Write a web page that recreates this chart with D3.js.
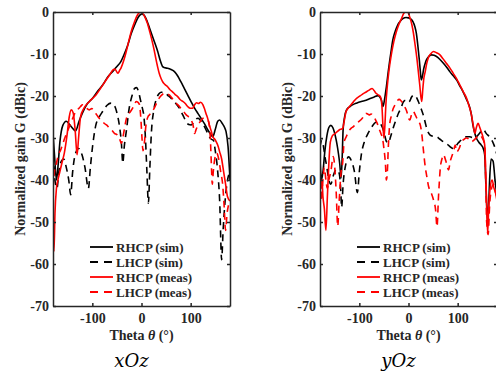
<!DOCTYPE html>
<meta charset="utf-8">
<style>
body { margin: 0; background: #fff; }
text { font-family: "Liberation Serif", "Times New Roman", serif; font-weight: bold; fill: #262626; }
.axis path, .axis line { stroke: #262626; stroke-width: 1.5px; }
.axis text { font-size: 14px; }
.sub { font-family: "DejaVu Serif", serif; font-style: italic; font-weight: normal; font-size: 18px; fill: #000; }
</style>
<body>
<script src="https://cdn.jsdelivr.net/npm/d3@7"></script>
<script>

// theta (deg) / normalized gain (dBic)
var xozRhcpSim = [[-180,-29],[-177,-34],[-173,-40],[-170,-37],[-166,-31],[-160,-27],[-153,-26],[-145,-27],[-134,-28.3],[-127,-26],[-120,-24],[-110,-21.8],[-100,-20.6],[-90,-19],[-79,-17.4],[-69,-15.5],[-59,-14.2],[-50,-13],[-42,-11.8],[-35,-10],[-28,-7.9],[-21,-5.2],[-14,-3.1],[-7,-1.3],[0,-0.5],[4,-0.6],[10,-1.8],[19,-4.7],[26,-7],[33,-9.4],[38,-11.5],[43,-13],[48,-13.3],[53,-13.4],[60,-13.7],[67,-14.2],[74,-15.3],[80,-16.6],[87,-18.2],[94,-19.8],[101,-21.4],[108,-22.9],[115,-24.2],[121,-25.3],[128,-26.6],[135,-28.1],[140,-29],[145,-29.7],[150,-28],[155,-26],[159,-25.7],[164,-26.5],[169,-27.5],[172,-28.5],[176,-32],[180,-40]];
var xozLhcpSim = [[-180,-31],[-176,-40],[-172,-42],[-168,-38],[-163,-35.5],[-158,-35],[-153,-37],[-148,-40],[-144,-43.5],[-140,-38],[-135,-34],[-128,-32.5],[-121,-34],[-115,-37],[-108,-42],[-104,-37],[-100,-32.5],[-93,-27],[-86,-25],[-79,-23.7],[-70,-22.2],[-62,-21.7],[-55,-22.3],[-50,-24],[-45,-27],[-41,-31],[-38,-36],[-35,-32],[-31,-28.5],[-25,-22.9],[-19,-19.8],[-14,-18.2],[-10,-18],[-6,-19],[-2,-21],[2,-23],[5,-25],[8,-30],[11,-38],[14,-45.5],[17,-37],[20,-29],[25,-23.3],[30,-20.8],[36,-19.4],[40,-19.1],[45,-19.1],[50,-19.5],[55,-20],[60,-20.5],[68,-21.5],[77,-22.9],[84,-24.5],[91,-26.1],[96,-26.8],[101,-26.9],[106,-26.3],[110,-25.6],[115,-25.3],[121,-26],[128,-27.3],[133,-28.5],[138,-29.7],[142,-30.3],[146,-30.5],[150,-33],[155,-38],[159,-45],[163,-59],[166,-52],[170,-45],[175,-40],[180,-38]];
var xozRhcpMeas = [[-180,-45],[-178,-57],[-176,-48],[-173,-42],[-170,-40],[-166,-38],[-162,-36],[-157,-33.6],[-151,-28.9],[-147,-25],[-143,-23.3],[-139,-24],[-135,-28],[-131,-34],[-128,-30],[-124,-25],[-117,-22.9],[-106,-21.3],[-93,-19.8],[-79,-17.4],[-65,-15],[-58,-13.8],[-54,-13.6],[-48,-14.6],[-44,-13.8],[-42,-13.4],[-36,-11.5],[-31,-9.4],[-26,-7],[-21,-4.7],[-15,-2.6],[-10,-1.1],[-5,-0.2],[-2,0],[2,-0.3],[7,-1.2],[12,-2.7],[17,-4.8],[22,-7.1],[26,-9.2],[29,-11],[33,-13.2],[36,-14.6],[40,-15.9],[43,-16.6],[48,-17.3],[53,-17.8],[58,-18.5],[63,-19],[68,-19.6],[74,-20.2],[79,-20.9],[84,-21.3],[89,-21.8],[94,-22.5],[99,-22.9],[104,-22.9],[108,-22.1],[112,-21.6],[116,-21.8],[120,-21.5],[125,-22.1],[128,-23],[131,-24.1],[135,-25.5],[138,-26.9],[142,-28.4],[145,-29.7],[149,-30.3],[152,-30.9],[156,-32],[159,-33.3],[163,-35],[167,-38],[171,-41],[175,-44],[180,-45]];
var xozLhcpMeas = [[-180,-42],[-177,-38],[-173,-36],[-169,-34],[-165,-33],[-161,-31.7],[-156,-30],[-151,-28.5],[-144,-26.5],[-137,-24.5],[-132,-23.3],[-128,-23],[-124,-22.5],[-120,-22.1],[-113,-22.8],[-106,-23.3],[-101,-23],[-96,-23.7],[-91,-24.5],[-86,-25.3],[-81,-25.8],[-76,-26.5],[-70,-27],[-65,-27.7],[-60,-28.2],[-55,-28.9],[-50,-29.2],[-45,-30],[-41,-31.3],[-38,-30],[-35,-28],[-31,-25.5],[-28,-24.5],[-23,-23.8],[-18,-22.9],[-14,-22],[-11,-21.3],[-7,-21.5],[-4,-22.1],[-1,-26],[1,-30],[3,-33],[6,-31],[9,-27],[13,-25],[16,-24.5],[21,-23.8],[26,-22.9],[31,-21.6],[36,-20.5],[41,-19.8],[46,-19.4],[51,-19.4],[57,-19.8],[62,-20.5],[67,-21.3],[73,-22],[80,-22.9],[85,-23.6],[91,-24.5],[96,-25],[101,-25.7],[105,-27],[108,-28.9],[111,-28],[115,-26.9],[120,-26],[125,-25.3],[130,-25.5],[135,-25.7],[138,-27],[140,-30],[142,-36],[144,-41],[146,-38],[149,-35],[153,-33.6],[157,-35],[161,-38],[165,-41],[168,-46],[171,-52],[174,-48],[177,-46],[180,-45]];

var yozRhcpSim = [[-180,-35],[-177,-40],[-174,-38],[-170,-33],[-166,-29.5],[-162,-27.5],[-158,-27],[-154,-27.5],[-151,-28.5],[-147,-30.5],[-144,-32.5],[-140,-36],[-137,-39.5],[-135,-35],[-133,-28],[-130,-25],[-126,-23.3],[-119,-22.5],[-112,-22],[-106,-21.7],[-96,-21.3],[-86,-21],[-78,-20.6],[-69,-20.2],[-62,-19.9],[-58,-20.3],[-55,-21],[-52,-22.5],[-49,-21],[-45,-17.8],[-41,-14],[-38,-11.4],[-35,-9],[-32,-6.7],[-27,-4.6],[-22,-3.1],[-16,-2.1],[-11.5,-1.6],[-5,-1.3],[0,-1.4],[5,-1.7],[9,-2.3],[13,-3.5],[16,-5.1],[19,-8],[22,-11.4],[24,-14],[26,-16.2],[28,-15.5],[31,-13.5],[34,-12.2],[37,-11.3],[42,-10.5],[47,-10.2],[52,-10.3],[57,-10.6],[64,-11.3],[71,-12.2],[78,-13.2],[84,-14.2],[91,-15.2],[98,-16.2],[104,-17.5],[111,-19],[118,-20.8],[125,-22.9],[128,-24.5],[131,-26.9],[134,-28.5],[138,-30],[143,-31],[148,-31.7],[152,-32.5],[155,-34],[157,-40],[159,-46],[161,-50],[163,-46],[165,-40],[168,-35],[172,-35.5],[176,-40],[180,-44]];
var yozLhcpSim = [[-180,-32],[-176,-30.5],[-173,-32],[-170,-34.4],[-166,-37],[-162,-40],[-158,-41],[-153,-39],[-147,-37.5],[-141,-38.4],[-138,-42],[-136,-46.5],[-133,-41],[-128,-36.5],[-122,-34.5],[-116,-35.5],[-110,-38],[-104,-43],[-100,-38],[-96,-34],[-90,-31],[-84,-29.3],[-77,-27.8],[-70,-26.6],[-65,-26.2],[-60,-26.3],[-55,-27],[-50,-28.5],[-45,-30.8],[-41,-31.2],[-36,-29.5],[-30,-27.2],[-25,-25.5],[-20,-24],[-15,-22.8],[-11,-21.5],[-6,-21],[-2,-21.5],[2,-21.3],[6,-20.3],[10,-19.8],[14,-20],[20,-21.3],[25,-22.8],[30,-24.5],[34,-26.3],[37,-27.7],[44,-29.3],[50,-29.6],[57,-29.7],[64,-30.3],[71,-30.9],[76,-31.3],[81,-31.7],[86,-32.2],[91,-32.5],[96,-32],[101,-31.2],[106,-30.6],[111,-30],[118,-29.7],[125,-29.7],[130,-29.9],[135,-30],[140,-29.5],[145,-28.8],[150,-28],[154,-28.2],[158,-28.9],[163,-29.5],[168,-30.2],[174,-31.7],[180,-34]];
var yozRhcpMeas = [[-180,-38],[-178,-42],[-176,-40],[-174,-44],[-171,-47],[-168,-52],[-165,-44],[-162,-36],[-159,-31],[-155,-29.5],[-150,-29],[-145,-28.5],[-141,-28.1],[-134,-27.7],[-130,-25.5],[-127,-23.7],[-122,-22.8],[-117,-22.1],[-112,-21.4],[-107,-20.7],[-100,-20.1],[-94,-19.6],[-87,-19.1],[-80,-18.6],[-74,-18.2],[-70,-18.7],[-67,-19.2],[-62,-19.7],[-57,-20.2],[-54,-22.5],[-52,-27],[-50,-30],[-48,-27],[-46,-22],[-43,-17.5],[-40,-14.2],[-35,-10.2],[-30,-7.1],[-25,-4.8],[-20,-3.1],[-14,-1.5],[-9.5,-0.3],[-5,0],[-2,0],[2,-1],[7,-3.1],[10,-5],[13.5,-7.9],[17,-11],[20,-14.2],[23,-17.5],[25,-20],[27,-21.3],[29,-18.5],[31,-16],[34,-14.2],[37,-12.3],[40,-11],[45,-10],[50.5,-9.4],[57,-9.7],[64,-10.2],[70,-11.1],[77,-12.2],[84,-13.3],[91,-14.6],[98,-15.9],[104.5,-17.4],[111,-18.9],[118,-20.5],[123,-22.3],[128,-24.5],[131,-26.5],[135,-28.9],[138,-27.5],[141.6,-26.5],[145,-27.5],[148,-28.5],[152,-30],[155,-31.7],[157,-38],[159,-46],[161,-52.7],[163,-47],[166,-42],[170,-40],[174,-42],[177,-43],[180,-45]];
var yozLhcpMeas = [[-180,-40],[-177,-45],[-174,-40],[-171,-37],[-168,-40],[-165,-42],[-162,-40],[-158,-38],[-153,-34.4],[-150,-37],[-147,-43],[-144,-51],[-141,-45],[-137,-38],[-134,-36],[-131,-31],[-127,-29.8],[-122,-28.5],[-117,-27.7],[-112,-27.3],[-106,-26.5],[-100,-26],[-94,-25.3],[-87,-24.1],[-83,-24.3],[-80,-24.5],[-76,-24.3],[-73,-24.5],[-70,-25],[-67,-25.7],[-63,-26.7],[-60,-27.7],[-56,-29],[-53,-30],[-50,-32.5],[-47,-36],[-45,-40],[-43,-38],[-41,-32],[-38,-26.5],[-35,-24.8],[-32,-23.3],[-27,-22],[-22,-21],[-19,-20.8],[-15,-21.2],[-11,-21.8],[-8,-22.5],[-4,-23.5],[-1.4,-24.5],[1,-25.5],[3,-25.7],[6,-24.5],[10,-23.7],[13,-24.3],[17,-25.3],[20,-26],[24,-26.9],[27,-29],[30,-32.5],[34,-36.8],[37,-39],[41,-41.6],[46,-43],[51,-44.8],[55,-47],[58,-51.1],[61,-44],[65,-36.8],[68,-35],[71,-34],[76,-35.5],[81.5,-37.6],[85,-35.5],[88,-34.4],[92,-33],[95,-31.7],[98,-33.3],[103,-32.5],[108,-30.9],[113,-30.3],[118,-30],[123,-30.3],[128,-30.9],[133,-30.5],[139,-29.8],[145,-29.3],[150,-30],[155,-31.7],[157,-40],[159,-50],[162,-53],[165,-46],[169,-42],[173,-41],[177,-43],[180,-44]];

var legendNames = ["RHCP (sim)", "LHCP (sim)", "RHCP (meas)", "LHCP (meas)"];
var yTicks = [-70, -60, -50, -40, -30, -20, -10, 0];
var xTicks = [-100, 0, 100];

var svg = d3.select("body").append("svg").attr("width", 496).attr("height", 372);

function panel(id, x0, x1, sets, title) {
  var x = d3.scaleLinear().domain([-180, 180]).range([x0, x1]);
  var y = d3.scaleLinear().domain([-70, 0]).range([306, 12]);
  var g = svg.append("g");

  g.append("clipPath").attr("id", "clip" + id)
    .append("rect").attr("x", x0).attr("y", 12).attr("width", x1 - x0).attr("height", 294);

  var line = d3.line().x(d => x(d[0])).y(d => y(d[1])).curve(d3.curveMonotoneX);
  var styles = [
    { color: "#000", dash: null },
    { color: "#000", dash: "7,5" },
    { color: "#ff0000", dash: null },
    { color: "#ff0000", dash: "7,5" }
  ];
  sets.forEach(function (s, i) {
    g.append("path").attr("clip-path", "url(#clip" + id + ")")
      .attr("d", line(s)).attr("fill", "none")
      .attr("stroke", styles[i].color).attr("stroke-width", 1.6)
      .attr("stroke-dasharray", styles[i].dash);
  });

  g.append("g").attr("class", "axis").attr("transform", "translate(0,306)")
    .call(d3.axisBottom(x).tickValues(xTicks).tickSizeInner(-3).tickSizeOuter(0).tickPadding(7).tickFormat(d => String(d)));
  g.append("g").attr("class", "axis").attr("transform", "translate(0,12)")
    .call(d3.axisTop(x).tickValues(xTicks).tickSizeInner(-3).tickSizeOuter(0).tickFormat(""));
  g.append("g").attr("class", "axis").attr("transform", "translate(" + x0 + ",0)")
    .call(d3.axisLeft(y).tickValues(yTicks).tickSizeInner(-3).tickSizeOuter(0).tickPadding(4).tickFormat(d => String(d)));
  g.append("g").attr("class", "axis").attr("transform", "translate(" + x1 + ",0)")
    .call(d3.axisRight(y).tickValues(yTicks).tickSizeInner(-3).tickSizeOuter(0).tickFormat(""));
  g.selectAll(".axis .domain").attr("stroke", "#262626");

  // legend
  var lg = g.append("g");
  legendNames.forEach(function (n, i) {
    var ly = 247 + i * 15;
    lg.append("line").attr("x1", x0 + 37).attr("x2", x0 + 60).attr("y1", ly).attr("y2", ly)
      .attr("stroke", styles[i].color).attr("stroke-width", 1.8)
      .attr("stroke-dasharray", styles[i].dash ? "8,6" : null);
    lg.append("text").attr("x", x0 + 63).attr("y", ly + 4.5).style("font-size", "13px").text(n);
  });

  // axis titles
  var xt = g.append("text").attr("x", x(0)).attr("y", 340).attr("text-anchor", "middle").style("font-size", "14px");
  xt.append("tspan").text("Theta ");
  xt.append("tspan").style("font-style", "italic").text("θ");
  xt.append("tspan").text(" (°)");

  g.append("text").attr("transform", "translate(" + (x0 - 28) + ",159) rotate(-90)")
    .attr("text-anchor", "middle").style("font-size", "14px").text("Normalized gain G (dBic)");

  g.append("text").attr("class", "sub").attr("x", x(0) - 10).attr("y", 367)
    .attr("text-anchor", "middle").text(title);
}

panel("a", 53, 230, [xozRhcpSim, xozLhcpSim, xozRhcpMeas, xozLhcpMeas], "xOz");
panel("b", 320, 497, [yozRhcpSim, yozLhcpSim, yozRhcpMeas, yozLhcpMeas], "yOz");

</script>
</body>
